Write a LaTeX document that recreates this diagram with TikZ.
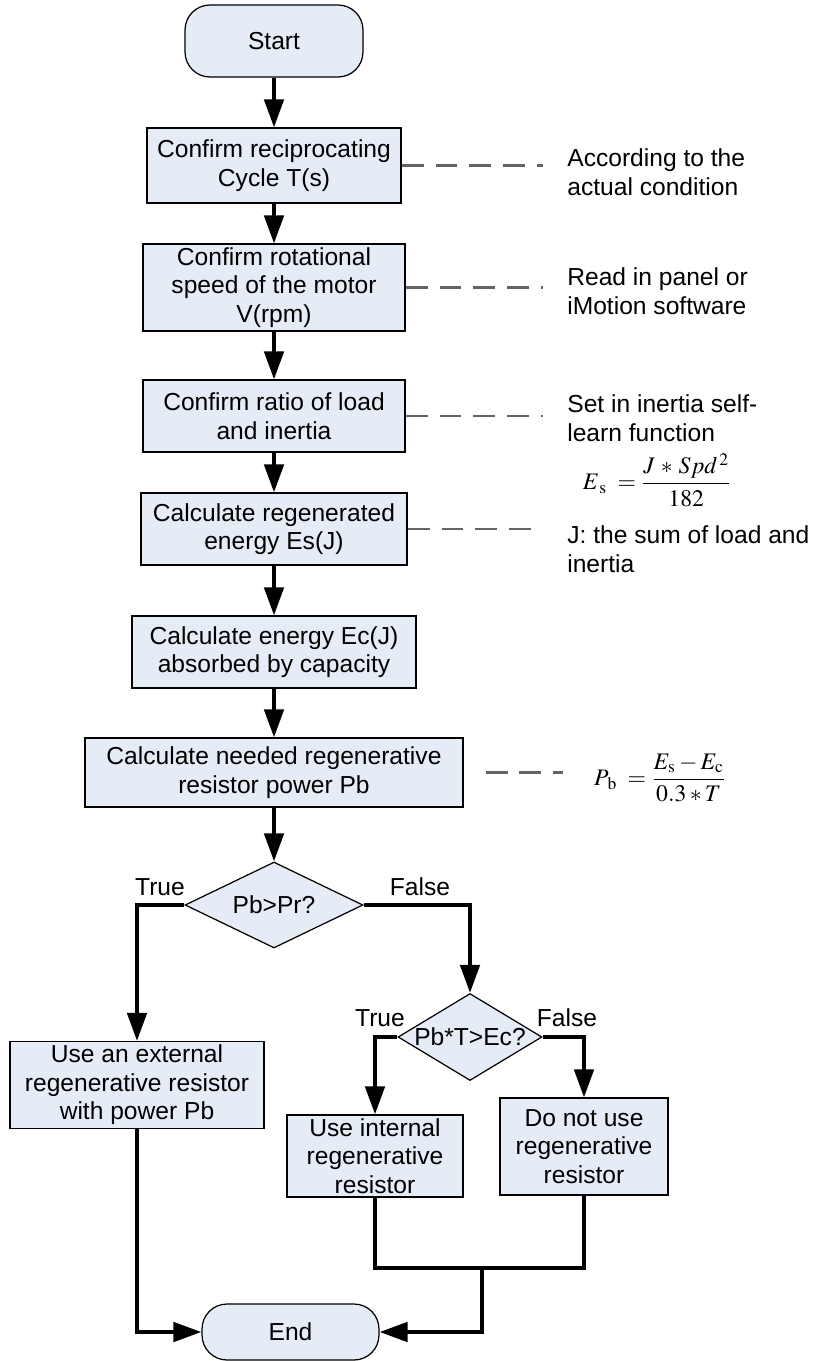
\documentclass[tikz,border=0pt]{standalone}
\usepackage{amsmath}
\usepackage{mathptmx}
\usepackage{fontspec}
\setmainfont{Liberation Sans}
\usetikzlibrary{shapes.geometric,arrows.meta}
\definecolor{boxfill}{RGB}{230,236,246}
\definecolor{notegray}{RGB}{100,100,100}
\tikzset{>={Triangle[length=16pt,width=11pt]}}
\tikzset{
  procbox/.style={draw,line width=0.7pt,fill=boxfill,align=center,inner sep=2pt},
  termbox/.style={procbox,rounded corners=0.5cm},
  decbox/.style={draw,line width=0.7pt,fill=boxfill,diamond,inner sep=0pt,aspect=2},
  flow/.style={->,line width=2.3pt},
  link/.style={notegray,line width=1.4pt,dash pattern=on 12.5pt off 6.8pt},
  note/.style={anchor=west,align=left,inner sep=0pt},
  formula/.style={font=\fontsize{13.5}{15}\selectfont}
}

\begin{document}
\begin{tikzpicture}[x=0.02cm,y=-0.02cm,font=\fontsize{14}{16.2}\selectfont]
    \useasboundingbox (0,0) rectangle (822,1361);
    % main column
    \node[termbox,minimum width=3.56cm,minimum height=1.44cm] (start) at (274,41) {Start};
    \node[procbox,minimum width=5.08cm,minimum height=1.5cm] (cycle) at (274,165.5) {Confirm reciprocating\\Cycle T(s)};
    \node[procbox,minimum width=5.24cm,minimum height=1.62cm] (speed) at (274,287.5) {Confirm rotational\\speed of the motor\\V(rpm)};
    \node[procbox,minimum width=5.24cm,minimum height=1.44cm] (ratio) at (274,416) {Confirm ratio of load\\and inertia};
    \node[procbox,minimum width=5.32cm,minimum height=1.44cm] (regen) at (274,529) {Calculate regenerated\\energy Es(J)};
    \node[procbox,minimum width=5.68cm,minimum height=1.44cm] (absorb) at (274,652) {Calculate energy Ec(J)\\absorbed by capacity};
    \node[procbox,minimum width=7.56cm,minimum height=1.38cm] (power) at (274,772.5) {Calculate needed regenerative\\resistor power Pb};
    \node[decbox,minimum width=3.56cm,minimum height=1.72cm] (check1) at (274,905) {\makebox[0pt]{Pb>Pr?}};
    \node[procbox,minimum width=5.08cm,minimum height=1.52cm] (extres) at (137,1085) {Use an external\\regenerative resistor\\with power Pb};
    \node[decbox,minimum width=2.88cm,minimum height=1.74cm] (check2) at (470,1037) {\makebox[0pt]{Pb*T>Ec?}};
    \node[procbox,minimum width=3.52cm,minimum height=1.56cm] (intres) at (375,1156) {Use internal\\regenerative\\resistor};
    \node[procbox,minimum width=3.36cm,minimum height=1.94cm] (nores) at (584,1146.5) {Do not use\\regenerative\\resistor};
    \node[termbox,minimum width=3.54cm,minimum height=1.12cm] (end) at (290.5,1332) {End};
    \coordinate (merge) at (482,1268);

    % notes on the right
    \node[note] (n1) at (567,172) {According to the\\actual condition};
    \node[note] (n2) at (567,291) {Read in panel or\\iMotion software};
    \node[note] (n3) at (567,418) {Set in inertia self-\\learn function};
    \node[formula] (fes) at (657,480) {$E_{\,\mathrm{s}}\; = \dfrac{J \,*\, Spd^{\,2}}{182}$};
    \node[note] (n4) at (567,549) {J: the sum of load and\\inertia};
    \node[formula] (fpb) at (660,778) {$P_{\,\mathrm{b}}\; = \dfrac{E_{\mathrm{s}} - E_{\mathrm{c}}}{0.3 * T}$};

    % branch labels
    \node (true1) at (160,887) {True};
    \node (false1) at (420,887) {False};
    \node (true2) at (380,1018) {True};
    \node (false2) at (567,1018) {False};

    % flow
    \draw[flow] (start) -- (cycle);
    \draw[flow] (cycle) -- (speed);
    \draw[flow] (speed) -- (ratio);
    \draw[flow] (ratio) -- (regen);
    \draw[flow] (regen) -- (absorb);
    \draw[flow] (absorb) -- (power);
    \draw[flow] (power) -- (check1);
    \draw[flow] (check1.west) -| (extres.north);
    \draw[flow] (check1.east) -| (check2.north);
    \draw[flow] (check2.west) -| (intres.north);
    \draw[flow] (check2.east) -| (nores.north);
    \draw[flow] (extres.south) |- (end.west);
    \draw[line width=2.3pt] (intres.south) |- (merge) -| (nores.south);
    \draw[flow] (merge) |- (end.east);

    % dashed links to notes
    \draw[link,shorten >=0.48cm] (cycle.east) -- (cycle.east -| n1.west);
    \draw[link,shorten >=0.48cm] (speed.east) -- (speed.east -| n2.west);
    \draw[link,shorten >=0.48cm] (ratio.east) -- (ratio.east -| n3.west);
    \draw[link,shorten >=0.48cm] (regen.east) -- (regen.east -| n4.west);
    \draw[link,shorten <=0.44cm,shorten >=0.5cm] (power.east) -- (power.east -| fpb.west);
  \end{tikzpicture}
\end{document}
